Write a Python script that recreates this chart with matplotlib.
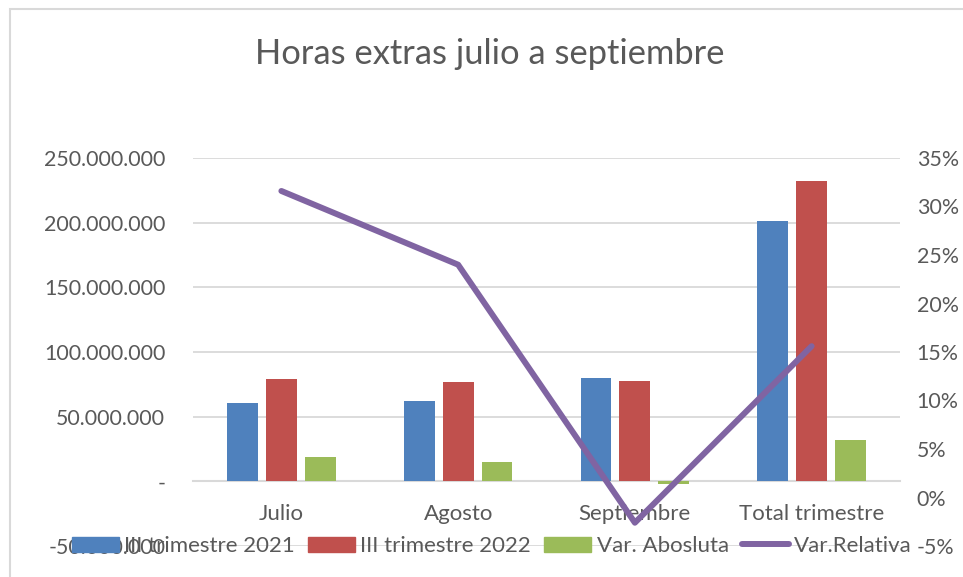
import matplotlib
matplotlib.use('Agg')
import matplotlib.pyplot as plt
from matplotlib.ticker import FuncFormatter, MultipleLocator
from matplotlib.patches import Rectangle
from matplotlib.lines import Line2D
import numpy as np

# datos
categorias = ['Julio', 'Agosto', 'Septiembre', 'Total trimestre']
trim_2021 = [60.4e6, 62.0e6, 79.7e6, 201.3e6]
trim_2022 = [79.3e6, 76.7e6, 77.3e6, 232.3e6]
var_absoluta = [19.0e6, 14.7e6, -2.3e6, 31.7e6]
var_relativa = [0.316, 0.240, -0.026, 0.156]

AZUL = '#4F81BD'
ROJO = '#C0504D'
VERDE = '#9BBB59'
MORADO = '#8064A2'
GRIS_TEXTO = '#595959'
GRIS_LINEA = '#D9D9D9'

plt.rcParams['font.family'] = ['Lato', 'DejaVu Sans']

fig = plt.figure(figsize=(9.63, 5.77), dpi=100)
ax = fig.add_axes([193/963, 1 - 546/577, 707/963, 388/577])
ax2 = ax.twinx()

x = np.arange(len(categorias))
ancho = 0.175
desp = 0.22
ax.bar(x - desp, trim_2021, ancho, color=AZUL, label='III trimestre 2021', zorder=3)
ax.bar(x, trim_2022, ancho, color=ROJO, label='III trimestre 2022', zorder=3)
ax.bar(x + desp, var_absoluta, ancho, color=VERDE, label='Var. Abosluta', zorder=3)

ax2.plot(x, var_relativa, color=MORADO, linewidth=4.3, solid_capstyle='round',
         solid_joinstyle='round', label='Var.Relativa')

# eje izquierdo
ax.set_xlim(-0.5, 3.5)
ax.set_ylim(-50e6, 250e6)
ax.yaxis.set_major_locator(MultipleLocator(50e6))


def fmt_miles(v, pos):
    if abs(v) < 1:
        return '-'
    return f'{v:,.0f}'.replace(',', '.')


ax.yaxis.set_major_formatter(FuncFormatter(fmt_miles))
ax.grid(axis='y', color=GRIS_LINEA, linewidth=1.3, zorder=0)
ax.set_axisbelow(True)
for s in ['top', 'right', 'left']:
    ax.spines[s].set_visible(False)
ax.spines['bottom'].set_position(('data', 0))
ax.spines['bottom'].set_color(GRIS_LINEA)
ax.spines['bottom'].set_linewidth(1.5)
ax.set_xticks(x)
ax.set_xticklabels(categorias)
ax.tick_params(axis='x', length=0, pad=16, labelsize=16, labelcolor=GRIS_TEXTO)
ax.tick_params(axis='y', length=0, pad=20, labelsize=15.4, labelcolor=GRIS_TEXTO)

# eje derecho
ax2.set_ylim(-0.05, 0.35)
ax2.yaxis.set_major_locator(MultipleLocator(0.05))
ax2.yaxis.set_major_formatter(FuncFormatter(lambda v, p: f'{v*100:.0f}%'))
for s in ax2.spines.values():
    s.set_visible(False)
ax2.tick_params(axis='y', length=0, pad=12, labelsize=15.4, labelcolor=GRIS_TEXTO)

fig.text(490/963, 1 - 54/577, 'Horas extras julio a septiembre', ha='center', va='center',
         fontsize=24.8, color=GRIS_TEXTO)

handles = [Rectangle((0, 0), 1, 1, color=AZUL), Rectangle((0, 0), 1, 1, color=ROJO),
           Rectangle((0, 0), 1, 1, color=VERDE),
           Line2D([], [], color=MORADO, linewidth=4.3, solid_capstyle='round')]
etiquetas = ['III trimestre 2021', 'III trimestre 2022', 'Var. Abosluta', 'Var.Relativa']
leg = fig.legend(handles, etiquetas, loc='center', bbox_to_anchor=(492/963, 1 - 546/577),
                 ncol=4, frameon=False, fontsize=16, handlelength=2.1, handleheight=0.65,
                 handletextpad=0.25, columnspacing=0.6, labelcolor=GRIS_TEXTO)

# borde del área del gráfico (recortado a la derecha y abajo)
fig.add_artist(Rectangle((9.5/963, -0.1), 2, 1 - 8.5/577 + 0.1, transform=fig.transFigure,
                         fill=False, edgecolor=GRIS_LINEA, linewidth=1.5))

fig.savefig('out.png', dpi=100)
